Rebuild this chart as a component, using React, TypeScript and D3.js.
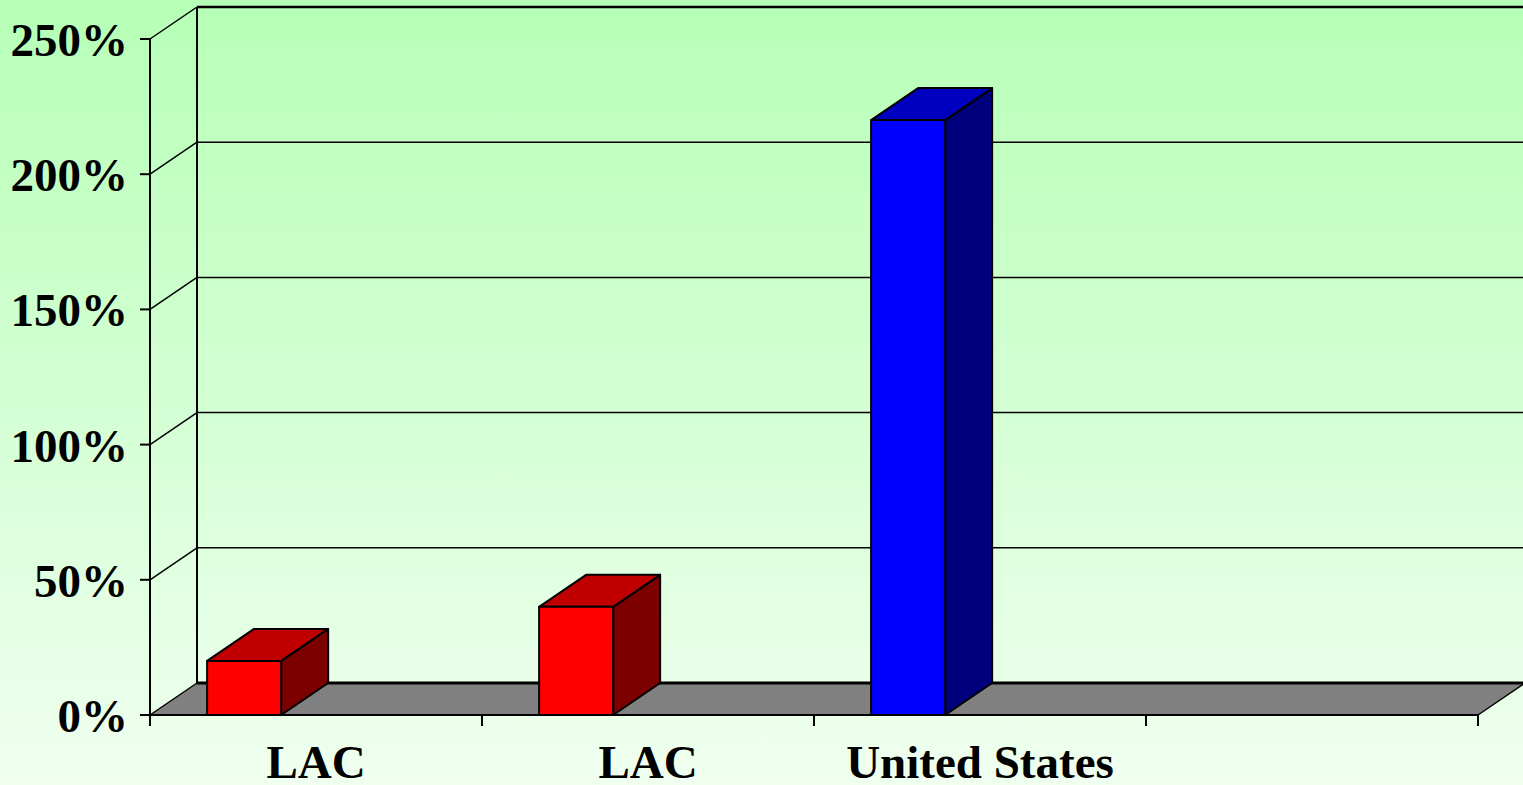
import * as d3 from "d3"

const W = 1523
const H = 785

// chart values
const categories = ["LAC", "LAC", "United States", ""]
const values: (number | null)[] = [20, 40, 220, null]
const faceColors = ["#FF0000", "#FF0000", "#0000FF", "#FF0000"]
const topColors = ["#C00000", "#C00000", "#0000C0", "#C00000"]
const sideColors = ["#7C0000", "#7C0000", "#00007C", "#7C0000"]
const yTicks = [0, 50, 100, 150, 200, 250]

const DX = 47
const DY = 32

export default function App() {
  const x = d3.scaleBand<number>().domain(categories.map((_, i) => i)).range([150, 1478])
  const y = d3.scaleLinear().domain([0, 250]).range([715, 39])
  const bw = x.bandwidth()
  const barOff = bw * 0.172
  const barW = bw * 0.223
  const y0 = y(0)
  const yTop = y(250)
  const xL = x.range()[0]
  const xR = x.range()[1]

  const pts = (p: [number, number][]) => p.map((d) => d.join(",")).join(" ")

  return (
    <div style={{ position: "fixed", left: 0, top: 0, width: W, height: H }}>
      <svg width={W} height={H} style={{ display: "block" }}>
        <defs>
          <linearGradient id="bg" x1="0" y1="0" x2="0" y2="1">
            <stop offset="0%" stopColor="#B6FFB6" />
            <stop offset="100%" stopColor="#F0FFF0" />
          </linearGradient>
        </defs>
        <rect width={W} height={H} fill="url(#bg)" />

        {/* back wall gridlines */}
        {yTicks.slice(1).map((t) => (
          <line key={"g" + t} x1={xL + DX} x2={W} y1={y(t) - DY} y2={y(t) - DY}
            stroke="#000" strokeWidth={t === 250 ? 2.5 : 1.5} />
        ))}
        {/* side wall diagonals */}
        {yTicks.slice(1).map((t) => (
          <line key={"d" + t} x1={xL} y1={y(t)} x2={xL + DX} y2={y(t) - DY}
            stroke="#000" strokeWidth={1.5} />
        ))}
        <line x1={xL + DX} x2={xL + DX} y1={yTop - DY} y2={y0 - DY} stroke="#000" strokeWidth={2} />
        <line x1={xL} x2={xL} y1={yTop} y2={y0} stroke="#000" strokeWidth={2} />

        {/* floor */}
        <polygon points={pts([[xL, y0], [xR, y0], [xR + DX, y0 - DY], [xL + DX, y0 - DY]])}
          fill="#808080" stroke="#000" strokeWidth={1.5} strokeLinejoin="round" />
        <line x1={xL + DX} x2={xR + DX} y1={y0 - DY} y2={y0 - DY} stroke="#000" strokeWidth={3} />
        <line x1={xL} x2={xR} y1={y0} y2={y0} stroke="#000" strokeWidth={2} />

        {/* y ticks and labels */}
        {yTicks.map((t) => (
          <g key={"t" + t}>
            <line x1={xL - 10} x2={xL} y1={y(t)} y2={y(t)} stroke="#000" strokeWidth={2} />
            <text x={128} y={y(t) + 17} textAnchor="end" fontFamily="'Liberation Serif', 'Times New Roman', serif"
              fontWeight="bold" fontSize={47}>{t}%</text>
          </g>
        ))}

        {/* x ticks */}
        {d3.range(categories.length + 1).map((i) => {
          const xx = xL + i * bw
          return <line key={"x" + i} x1={xx} x2={xx} y1={y0} y2={y0 + 11} stroke="#000" strokeWidth={2} />
        })}

        {/* bars */}
        {values.map((v, i) => {
          if (v == null) return null
          const bx = (x(i) as number) + barOff
          const by = y(v)
          return (
            <g key={"b" + i} stroke="#000" strokeWidth={2} strokeLinejoin="round">
              <polygon fill={sideColors[i]}
                points={pts([[bx + barW, by], [bx + barW + DX, by - DY], [bx + barW + DX, y0 - DY], [bx + barW, y0]])} />
              <polygon fill={topColors[i]}
                points={pts([[bx, by], [bx + DX, by - DY], [bx + barW + DX, by - DY], [bx + barW, by]])} />
              <rect x={bx} y={by} width={barW} height={y0 - by} fill={faceColors[i]} />
            </g>
          )
        })}

        {/* category labels */}
        {categories.map((c, i) => (
          <text key={"c" + i} x={(x(i) as number) + bw / 2} y={778} textAnchor="middle"
            fontFamily="'Liberation Serif', 'Times New Roman', serif" fontWeight="bold" fontSize={47}>{c}</text>
        ))}
      </svg>
    </div>
  )
}
